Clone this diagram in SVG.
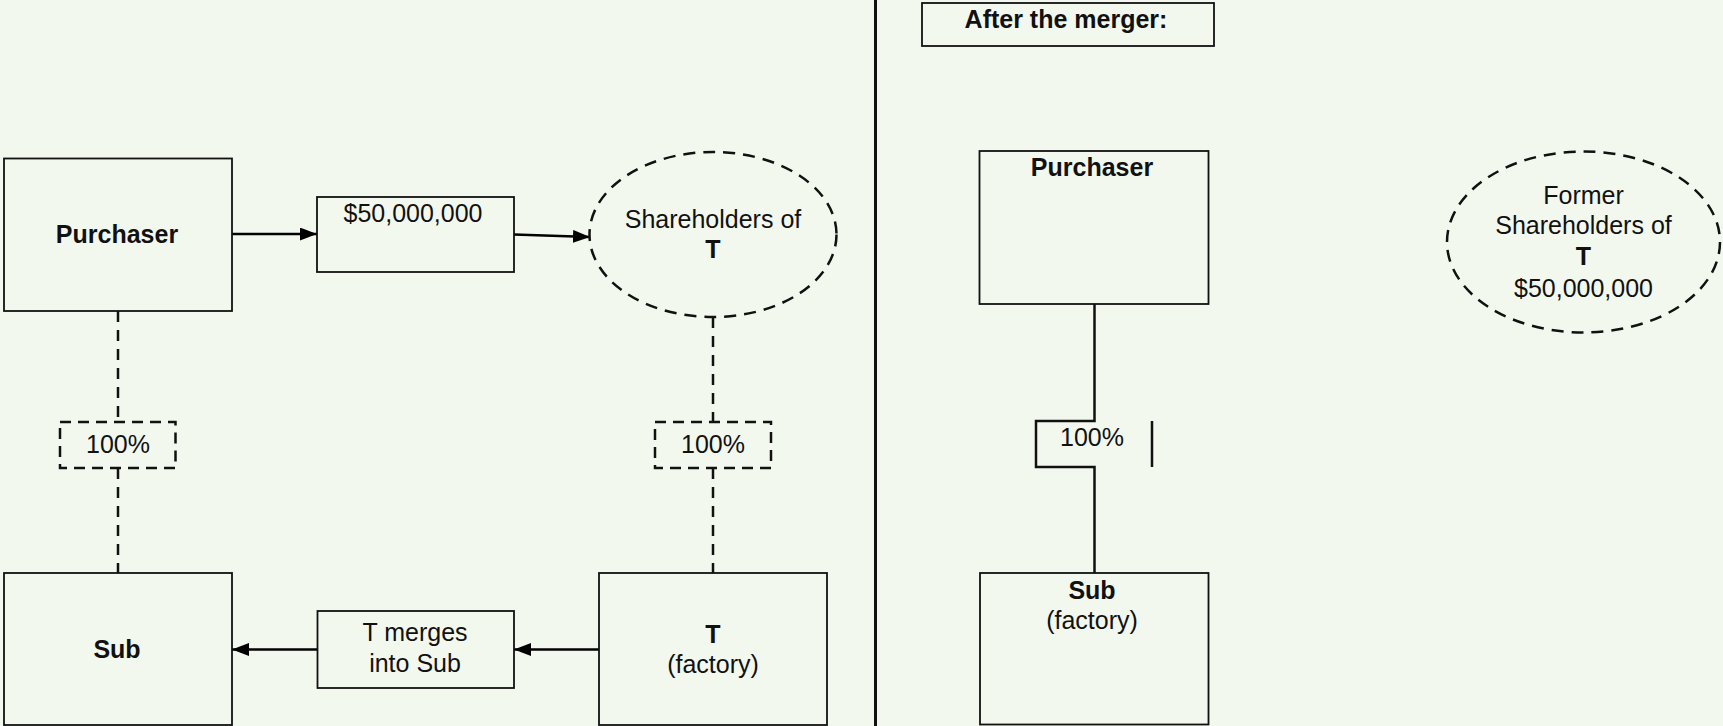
<svg xmlns="http://www.w3.org/2000/svg" width="1723" height="726" viewBox="0 0 1723 726">
  <defs>
    <marker id="arrow" viewBox="0 0 17 13" refX="17" refY="6.5" markerWidth="17" markerHeight="13" markerUnits="userSpaceOnUse" orient="auto">
      <path d="M0,0 L17,6.5 L0,13 Z" fill="#000"/>
    </marker>
    <style>
      .box { fill: none; stroke: #111; stroke-width: 1.8; }
      .dbox { fill: none; stroke: #111; stroke-width: 2.5; stroke-dasharray: 11 7; }
      .dell { fill: none; stroke: #111; stroke-width: 2.5; stroke-dasharray: 12 8; }
      .flow { fill: none; stroke: #000; stroke-width: 2.5; marker-end: url(#arrow); }
      .own { fill: none; stroke: #111; stroke-width: 2.5; stroke-dasharray: 11 8; }
      .solid { fill: none; stroke: #111; stroke-width: 2.5; }
      text { font-family: "Liberation Sans", Arial, sans-serif; font-size: 25px; fill: #111; text-anchor: middle; }
      .b { font-weight: bold; }
    </style>
  </defs>

  <rect width="1723" height="726" fill="#f3f8ef"/>

  <!-- divider between before / after -->
  <line x1="875.5" y1="0" x2="875.5" y2="726" stroke="#111" stroke-width="3"/>

  <!-- connectors -->
  <g id="connectors">
    <line class="flow" x1="232" y1="234" x2="317" y2="234"/>
    <line class="flow" x1="514" y1="234.5" x2="590" y2="237"/>
    <line class="flow" x1="599" y1="649.5" x2="514" y2="649.5"/>
    <line class="flow" x1="317.5" y1="649.5" x2="232" y2="649.5"/>
    <line class="own" x1="118" y1="311" x2="118" y2="422"/>
    <line class="own" x1="118" y1="468" x2="118" y2="573"/>
    <line class="own" x1="713" y1="317" x2="713" y2="422"/>
    <line class="own" x1="713" y1="468" x2="713" y2="573"/>
    <path class="solid" d="M1094.5,304 V421 H1036 V467 H1094.5 V573"/>
    <line class="solid" x1="1152" y1="421" x2="1152" y2="467"/>
  </g>

  <!-- before the merger -->
  <g id="purchaser">
    <rect class="box" x="4" y="158.5" width="228" height="152.5"/>
    <text class="b" x="117" y="243">Purchaser</text>
  </g>
  <g id="payment">
    <rect class="box" x="317" y="197" width="197" height="75"/>
    <text x="413" y="222">$50,000,000</text>
  </g>
  <g id="shareholders">
    <ellipse class="dell" cx="713" cy="234.5" rx="123.5" ry="82.5"/>
    <text x="713" y="228">Shareholders of</text>
    <text class="b" x="713" y="258">T</text>
  </g>
  <g id="own-sub">
    <rect class="dbox" x="60" y="422" width="115.5" height="46"/>
    <text x="118" y="453">100%</text>
  </g>
  <g id="own-t">
    <rect class="dbox" x="655" y="422" width="116" height="46"/>
    <text x="713" y="453">100%</text>
  </g>
  <g id="sub">
    <rect class="box" x="4" y="573" width="228" height="152"/>
    <text class="b" x="117" y="658">Sub</text>
  </g>
  <g id="merge">
    <rect class="box" x="317.5" y="611" width="196.5" height="77"/>
    <text x="415" y="641">T merges</text>
    <text x="415" y="672">into Sub</text>
  </g>
  <g id="target">
    <rect class="box" x="599" y="573" width="228" height="152"/>
    <text class="b" x="713" y="643">T</text>
    <text x="713" y="673">(factory)</text>
  </g>

  <!-- after the merger -->
  <g id="after-title">
    <rect class="box" x="922" y="3" width="292" height="43"/>
    <text class="b" x="1066" y="27.5">After the merger:</text>
  </g>
  <g id="purchaser-after">
    <rect class="box" x="979.5" y="151" width="229" height="153"/>
    <text class="b" x="1092" y="176">Purchaser</text>
  </g>
  <g id="own-after">
    <text x="1092" y="446">100%</text>
  </g>
  <g id="sub-after">
    <rect class="box" x="980" y="573" width="228.5" height="151.5"/>
    <text class="b" x="1092" y="598.5">Sub</text>
    <text x="1092" y="628.5">(factory)</text>
  </g>
  <g id="former-shareholders">
    <ellipse class="dell" cx="1583.5" cy="242" rx="136.5" ry="90.5"/>
    <text x="1583.5" y="203.5">Former</text>
    <text x="1583.5" y="234">Shareholders of</text>
    <text class="b" x="1583.5" y="265">T</text>
    <text x="1583.5" y="296.5">$50,000,000</text>
  </g>
</svg>
